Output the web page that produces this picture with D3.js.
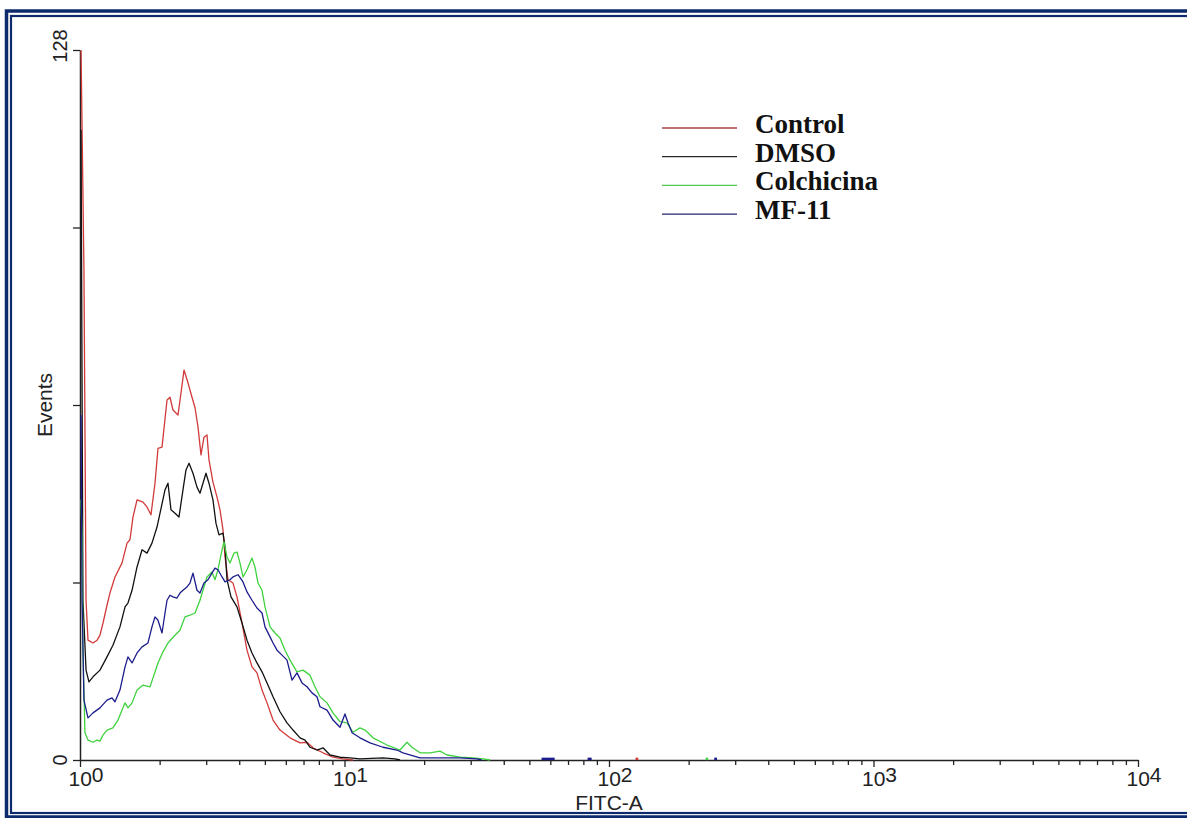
<!DOCTYPE html>
<html>
<head>
<meta charset="utf-8">
<script src="https://cdn.jsdelivr.net/npm/d3@7"></script>
<style>
  html, body { margin: 0; padding: 0; background: #fff; }
  svg { display: block; }
</style>
</head>
<body>
<svg id="chart" width="1187" height="818"></svg>
<script>
// histogram data: [FITC-A, events]
const controlData = [
  [1.009, 128], [1.035, 88.3], [1.054, 28.8], [1.072, 21.6], [1.12, 21.1], [1.16, 21.6], [1.19, 22.5],
  [1.222, 24.7], [1.265, 27.9], [1.298, 30.1], [1.356, 33.0], [1.441, 35.5], [1.506, 39.1], [1.545, 39.7],
  [1.586, 43.8], [1.643, 46.9], [1.731, 46.5], [1.792, 45.6], [1.855, 44.2], [1.921, 49.9], [1.972, 56.2],
  [2.042, 56.4], [2.133, 64.9], [2.189, 65.4], [2.247, 63.1], [2.347, 62.2], [2.409, 66.2], [2.473, 70.3],
  [2.56, 68.0], [2.651, 65.4], [2.722, 63.5], [2.794, 60.0], [2.867, 55.0], [2.943, 58.2], [3.021, 58.6],
  [3.074, 54.1], [3.182, 50.1], [3.296, 47.4], [3.383, 45.1], [3.473, 41.5], [3.534, 36.6], [3.627, 32.5],
  [3.788, 31.9], [3.922, 29.4], [4.097, 24.7], [4.279, 19.8], [4.469, 16.8], [4.668, 15.7], [4.877, 12.6],
  [5.095, 10.3], [5.368, 7.2], [5.704, 5.4], [6.223, 4.0], [6.79, 3.1], [7.216, 3.2], [7.599, 2.2],
  [8.294, 1.3], [9.049, 0.5], [9.87, 0.2], [10.77, 0]
];
const dmsoData = [
  [1.009, 113.6], [1.026, 28.8], [1.054, 16.2], [1.081, 14.1], [1.12, 15.0], [1.19, 16.2], [1.265, 18.6],
  [1.332, 20.7], [1.416, 24.0], [1.48, 27.6], [1.518, 28.3], [1.573, 30.6], [1.643, 34.8], [1.716, 37.9],
  [1.792, 37.3], [1.871, 39.1], [1.955, 42.0], [2.007, 44.5], [2.096, 48.7], [2.151, 49.9], [2.208, 45.1],
  [2.287, 44.5], [2.367, 43.8], [2.451, 48.7], [2.516, 52.3], [2.583, 53.5], [2.674, 51.7], [2.769, 49.2],
  [2.842, 48.1], [2.917, 49.9], [2.994, 51.7], [3.074, 49.9], [3.182, 46.9], [3.266, 42.7], [3.354, 40.6],
  [3.473, 40.9], [3.534, 38.4], [3.596, 32.5], [3.723, 29.4], [3.922, 27.6], [4.097, 24.7], [4.279, 21.6],
  [4.469, 19.3], [4.668, 17.5], [4.877, 15.9], [5.095, 13.9], [5.368, 11.4], [5.704, 8.7], [6.062, 6.7],
  [6.388, 5.4], [6.79, 4.0], [7.092, 3.6], [7.403, 2.3], [7.87, 1.8], [8.294, 2.2], [8.814, 0.9],
  [9.617, 0.5], [10.49, 0.4], [11.44, 0.2], [13.98, 0.4], [15.52, 0.2], [16.21, 0]
];
const colchicinaData = [
  [1.009, 46.9], [1.018, 40.6], [1.026, 19.8], [1.044, 4.9], [1.072, 3.6], [1.12, 3.2], [1.16, 3.6],
  [1.19, 3.4], [1.222, 4.5], [1.265, 5.4], [1.332, 5.8], [1.392, 7.2], [1.48, 10.3], [1.518, 9.4],
  [1.573, 10.3], [1.643, 12.6], [1.731, 13.5], [1.839, 13.2], [1.888, 14.8], [1.972, 17.5], [2.06, 19.5],
  [2.151, 21.1], [2.287, 22.5], [2.388, 23.4], [2.494, 25.8], [2.605, 26.1], [2.722, 26.5], [2.842, 28.8],
  [2.917, 30.6], [3.021, 33.0], [3.154, 33.9], [3.238, 32.5], [3.324, 34.3], [3.443, 37.9], [3.503, 39.3],
  [3.596, 36.6], [3.691, 35.5], [3.821, 37.3], [3.922, 37.5], [4.026, 35.5], [4.133, 33.0], [4.279, 34.3],
  [4.469, 36.4], [4.587, 34.8], [4.71, 31.9], [4.877, 30.6], [5.006, 27.6], [5.23, 24.0], [5.462, 22.9],
  [5.704, 22.0], [5.957, 19.8], [6.223, 18.0], [6.613, 15.9], [6.969, 16.2], [7.403, 15.3], [7.734, 13.2],
  [8.08, 11.4], [8.587, 10.3], [9.049, 8.5], [9.617, 6.9], [10.22, 6.7], [10.77, 5.0], [11.44, 5.8],
  [11.96, 5.4], [12.82, 4.0], [14.48, 2.7], [16.21, 1.8], [17.23, 3.2], [17.99, 2.3], [19.3, 1.3],
  [21.05, 1.3], [22.97, 1.6], [24.41, 0.9], [27.34, 0.5], [30.6, 0.4], [33.39, 0.2], [35.5, 0]
];
const mf11Data = [
  [1.009, 62.2], [1.018, 28.8], [1.035, 10.8], [1.072, 7.6], [1.12, 8.5], [1.19, 9.4], [1.265, 10.8],
  [1.321, 11.2], [1.356, 10.5], [1.416, 12.6], [1.48, 16.8], [1.518, 18.6], [1.573, 17.5], [1.643, 19.3],
  [1.716, 20.4], [1.807, 21.1], [1.871, 24.0], [1.921, 25.8], [1.972, 25.2], [2.042, 22.9], [2.096, 26.5],
  [2.133, 28.8], [2.189, 29.7], [2.247, 29.4], [2.326, 29.2], [2.388, 30.1], [2.451, 30.6], [2.538, 31.2],
  [2.605, 31.9], [2.674, 33.7], [2.769, 30.6], [2.842, 30.1], [2.943, 31.9], [3.047, 32.5], [3.154, 33.7],
  [3.238, 34.6], [3.324, 34.3], [3.443, 33.0], [3.534, 32.1], [3.691, 32.5], [3.788, 33.0], [3.957, 33.4],
  [4.133, 32.1], [4.279, 30.3], [4.469, 28.8], [4.668, 27.4], [4.877, 26.5], [5.006, 24.0], [5.23, 22.2],
  [5.368, 21.1], [5.558, 19.8], [5.804, 18.9], [6.062, 18.0], [6.332, 14.4], [6.613, 15.7], [6.909, 13.9],
  [7.216, 13.2], [7.535, 12.1], [7.87, 11.4], [8.08, 9.6], [8.587, 9.0], [9.049, 7.2], [9.617, 5.9],
  [10.04, 8.3], [10.31, 6.7], [10.68, 4.9], [11.44, 4.0], [12.49, 3.1], [13.98, 2.3], [15.79, 1.8],
  [16.64, 1.3], [19.3, 0.4], [22.97, 0.4], [27.34, 0.4], [31.7, 0.2], [33.0, 0]
];
// isolated single-event blips on the baseline: [from, to]
const controlBlips = [[126, 129]];
const colchicinaBlips = [[232, 237]];
const mf11Blips = [[55.6, 62.3], [83, 86], [250, 256]];

const seriesNames = ["Control", "DMSO", "Colchicina", "MF-11"];
const seriesColors = ["#d23a3a", "#111111", "#3fd23f", "#1c1c8c"];
const legendColors = ["#a84646", "#2a2a2a", "#50c850", "#24246e"];
const seriesData = [controlData, dmsoData, colchicinaData, mf11Data];
const seriesBlips = [controlBlips, [], colchicinaBlips, mf11Blips];

const xExponents = [0, 1, 2, 3, 4];
const yTicks = [0, 32, 64, 96, 128];
const yLabels = [0, 128];

const svg = d3.select("#chart");
const navy = "#0c2a6c";

// double frame (open on the right edge)
svg.append("rect").attr("x", 6.5).attr("y", 11).attr("width", 1220).attr("height", 806)
  .attr("fill", "none").attr("stroke", navy).attr("stroke-width", 3.5);
svg.append("rect").attr("x", 11).attr("y", 16).attr("width", 1220).attr("height", 797)
  .attr("fill", "none").attr("stroke", navy).attr("stroke-width", 2.2);

const x = d3.scaleLog().domain([1, 1e4]).range([80, 1138]);
const y = d3.scaleLinear().domain([0, 128]).range([760, 50]);

const axisFont = "'Liberation Sans', Arial, sans-serif";

// x axis: log ticks, labels only at decades
const logTicks = [];
for (let e = 0; e < 4; e++) for (let m = 1; m < 10; m++) logTicks.push(m * Math.pow(10, e));
logTicks.push(1e4);

const xAxis = svg.append("g").attr("id", "xAxis").attr("transform", "translate(0,760)")
  .call(d3.axisBottom(x).tickValues(logTicks).tickSizeInner(5).tickSizeOuter(0).tickFormat(""));
xAxis.selectAll(".tick line").attr("stroke", "#222").attr("stroke-width", 1.3)
  .attr("y2", d => (Math.log10(d) % 1 === 0 ? 7 : 5));
xAxis.select(".domain").attr("stroke", "#222").attr("stroke-width", 1.5);

const xLabels = svg.append("g").attr("id", "xLabels")
  .attr("font-family", axisFont).attr("font-size", 21).attr("fill", "#222");
xExponents.forEach(e => {
  const t = xLabels.append("text").attr("x", x(Math.pow(10, e)) - 11.5).attr("y", 786);
  t.append("tspan").text("10");
  t.append("tspan").attr("dy", -4).text(e);
});

svg.append("text").attr("x", x(100)).attr("y", 810).attr("text-anchor", "middle")
  .attr("font-family", axisFont).attr("font-size", 21).attr("fill", "#222").text("FITC-A");

// y axis
const yAxis = svg.append("g").attr("id", "yAxis").attr("transform", "translate(80,0)")
  .call(d3.axisLeft(y).tickValues(yTicks).tickSize(7).tickSizeOuter(0).tickFormat(""));
yAxis.selectAll(".tick line").attr("stroke", "#222").attr("stroke-width", 1.3);
yAxis.select(".domain").attr("stroke", "#222").attr("stroke-width", 1.5);

yLabels.forEach(v => {
  svg.append("text").attr("transform", `translate(67,${y(v) - (v ? 4 : 0)}) rotate(-90)`)
    .attr("text-anchor", "middle").attr("font-family", axisFont).attr("font-size", 20)
    .attr("fill", "#222").text(v);
});

svg.append("text").attr("transform", "translate(52,405) rotate(-90)").attr("text-anchor", "middle")
  .attr("font-family", axisFont).attr("font-size", 21).attr("fill", "#222").text("Events");

// histogram curves
const line = d3.line().x(d => x(d[0])).y(d => y(d[1]));
const curves = svg.append("g").attr("id", "curves");
seriesData.forEach((data, i) => {
  curves.append("path").datum(data).attr("d", line)
    .attr("fill", "none").attr("stroke", seriesColors[i]).attr("stroke-width", 1.3)
    .attr("stroke-linejoin", "round");
  seriesBlips[i].forEach(b => {
    curves.append("path").datum([[b[0], 0.2], [b[1], 0.2]]).attr("d", line)
      .attr("fill", "none").attr("stroke", seriesColors[i]).attr("stroke-width", 2.5);
  });
});

// legend
const legend = svg.append("g").attr("id", "legend");
seriesNames.forEach((name, i) => {
  const ly = 128 + i * 28.7;
  legend.append("line").attr("x1", 662).attr("x2", 737).attr("y1", ly).attr("y2", ly)
    .attr("stroke", legendColors[i]).attr("stroke-width", 1.3);
  legend.append("text").attr("x", 755).attr("y", ly + 5)
    .attr("font-family", "'Liberation Serif', 'Times New Roman', serif").attr("font-weight", "bold")
    .attr("font-size", 27).attr("fill", "#111").text(name);
});
</script>
</body>
</html>
